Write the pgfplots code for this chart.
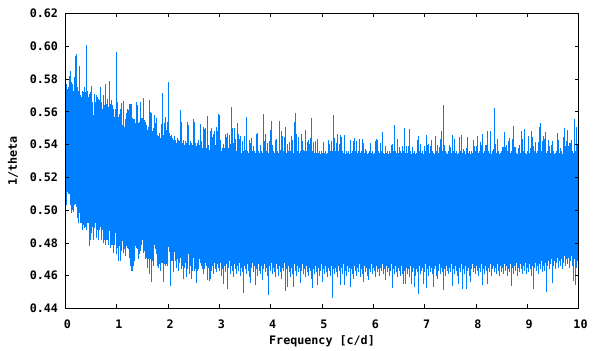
\documentclass[border=0pt]{standalone}
\usepackage{fontspec}
\setmonofont{DejaVu Sans Mono Bold}
\setmainfont{DejaVu Sans Mono Bold}
\usepackage{pgfplots}
\usepackage{pgfplotstable}
\pgfplotsset{compat=1.18}
\definecolor{bandblue}{RGB}{0,128,255}

% one row per pixel column of the reference: top and bottom of the column
\pgfplotstableread[row sep=crcr]{
hi lo\\
0.577 0.503\\ 0.574 0.511\\ 0.575 0.510\\ 0.582 0.510\\ 0.585 0.503\\ 0.578 0.498\\ 0.577 0.500\\ 0.573 0.499\\ 0.581 0.503\\ 0.594 0.504\\
0.5955 0.502\\ 0.575 0.495\\ 0.573 0.492\\ 0.588 0.498\\ 0.570 0.492\\ 0.569 0.492\\ 0.573 0.488\\ 0.572 0.491\\ 0.575 0.489\\ 0.572 0.490\\
0.601 0.488\\ 0.573 0.492\\ 0.569 0.492\\ 0.571 0.478\\ 0.572 0.482\\ 0.576 0.486\\ 0.566 0.490\\ 0.558 0.482\\ 0.571 0.489\\ 0.566 0.492\\
0.570 0.483\\ 0.569 0.488\\ 0.568 0.482\\ 0.567 0.488\\ 0.575 0.490\\ 0.566 0.482\\ 0.562 0.488\\ 0.570 0.480\\ 0.564 0.482\\ 0.577 0.479\\
0.565 0.482\\ 0.568 0.482\\ 0.563 0.479\\ 0.579 0.487\\ 0.565 0.477\\ 0.567 0.479\\ 0.564 0.479\\ 0.562 0.474\\ 0.557 0.479\\ 0.562 0.486\\
0.5967 0.473\\ 0.566 0.477\\ 0.557 0.469\\ 0.5585 0.478\\ 0.562 0.469\\ 0.5655 0.475\\ 0.552 0.481\\ 0.5665 0.474\\ 0.551 0.476\\ 0.5555 0.472\\
0.559 0.478\\ 0.562 0.477\\ 0.561 0.476\\ 0.565 0.471\\ 0.5645 0.466\\ 0.565 0.463\\ 0.556 0.463\\ 0.5555 0.466\\ 0.5555 0.469\\ 0.553 0.478\\
0.566 0.477\\ 0.564 0.476\\ 0.553 0.470\\ 0.554 0.473\\ 0.566 0.475\\ 0.556 0.479\\ 0.556 0.482\\ 0.5684 0.474\\ 0.555 0.475\\ 0.554 0.470\\
0.552 0.471\\ 0.549 0.465\\ 0.551 0.470\\ 0.567 0.461\\ 0.5596 0.470\\ 0.559 0.456\\ 0.548 0.469\\ 0.550 0.466\\ 0.558 0.479\\ 0.553 0.476\\
0.556 0.473\\ 0.546 0.466\\ 0.545 0.465\\ 0.547 0.467\\ 0.544 0.463\\ 0.5527 0.468\\ 0.5717 0.468\\ 0.546 0.456\\ 0.553 0.467\\ 0.5568 0.466\\
0.549 0.467\\ 0.554 0.466\\ 0.5784 0.4776\\ 0.547 0.4745\\ 0.545 0.4537\\ 0.546 0.469\\ 0.544 0.469\\ 0.543 0.462\\ 0.545 0.4745\\ 0.543 0.469\\
0.541 0.465\\ 0.544 0.470\\ 0.543 0.463\\ 0.542 0.468\\ 0.5612 0.471\\ 0.554 0.464\\ 0.541 0.466\\ 0.543 0.4577\\ 0.540 0.465\\ 0.542 0.468\\
0.541 0.459\\ 0.554 0.464\\ 0.552 0.473\\ 0.540 0.461\\ 0.542 0.466\\ 0.541 0.458\\ 0.540 0.463\\ 0.5557 0.471\\ 0.554 0.463\\ 0.541 0.464\\
0.539 0.4555\\ 0.541 0.463\\ 0.543 0.464\\ 0.540 0.470\\ 0.5527 0.468\\ 0.542 0.466\\ 0.538 0.464\\ 0.5506 0.461\\ 0.5496 0.464\\ 0.550 0.468\\
0.538 0.466\\ 0.5576 0.4575\\ 0.5398 0.465\\ 0.537 0.4567\\ 0.5486 0.4582\\ 0.5502 0.463\\ 0.5449 0.466\\ 0.5463 0.461\\ 0.5484 0.468\\ 0.540 0.464\\
0.5508 0.462\\ 0.548 0.467\\ 0.5588 0.465\\ 0.5582 0.463\\ 0.5429 0.468\\ 0.536 0.460\\ 0.538 0.464\\ 0.5404 0.4551\\ 0.5378 0.466\\ 0.5465 0.462\\
0.5449 0.467\\ 0.5472 0.4518\\ 0.538 0.465\\ 0.5459 0.469\\ 0.5404 0.461\\ 0.563 0.466\\ 0.5502 0.463\\ 0.541 0.4592\\ 0.5502 0.467\\ 0.5435 0.464\\
0.536 0.461\\ 0.5533 0.466\\ 0.5465 0.463\\ 0.5435 0.468\\ 0.5453 0.460\\ 0.535 0.465\\ 0.5423 0.462\\ 0.536 0.4492\\ 0.5453 0.466\\ 0.537 0.464\\
0.5569 0.461\\ 0.536 0.467\\ 0.535 0.463\\ 0.5429 0.459\\ 0.541 0.4557\\ 0.544 0.465\\ 0.536 0.468\\ 0.539 0.462\\ 0.536 0.466\\ 0.535 0.4541\\
0.5465 0.464\\ 0.5472 0.460\\ 0.536 0.467\\ 0.535 0.463\\ 0.5398 0.461\\ 0.536 0.466\\ 0.535 0.4575\\ 0.5588 0.464\\ 0.5423 0.467\\ 0.5465 0.462\\
0.536 0.465\\ 0.541 0.460\\ 0.535 0.448\\ 0.5423 0.466\\ 0.549 0.463\\ 0.5545 0.468\\ 0.5398 0.461\\ 0.536 0.465\\ 0.535 0.462\\ 0.5429 0.4592\\
0.5435 0.467\\ 0.536 0.464\\ 0.535 0.460\\ 0.5545 0.466\\ 0.537 0.462\\ 0.5484 0.458\\ 0.5453 0.465\\ 0.536 0.463\\ 0.5447 0.468\\ 0.5508 0.4506\\
0.535 0.464\\ 0.5404 0.453\\ 0.536 0.466\\ 0.5416 0.462\\ 0.536 0.459\\ 0.5453 0.465\\ 0.5429 0.461\\ 0.535 0.4531\\ 0.5539 0.467\\ 0.5594 0.463\\
0.5465 0.460\\ 0.536 0.466\\ 0.5447 0.462\\ 0.535 0.465\\ 0.536 0.4557\\ 0.5465 0.463\\ 0.5423 0.467\\ 0.537 0.461\\ 0.536 0.464\\ 0.549 0.459\\
0.536 0.466\\ 0.5416 0.462\\ 0.5429 0.460\\ 0.5404 0.465\\ 0.544 0.463\\ 0.5563 0.458\\ 0.536 0.4527\\ 0.5416 0.464\\ 0.535 0.461\\ 0.5423 0.466\\
0.535 0.462\\ 0.5435 0.4541\\ 0.535 0.465\\ 0.536 0.460\\ 0.534 0.463\\ 0.536 0.467\\ 0.535 0.4563\\ 0.5416 0.464\\ 0.535 0.461\\ 0.536 0.466\\
0.534 0.462\\ 0.535 0.459\\ 0.5429 0.465\\ 0.5404 0.463\\ 0.536 0.460\\ 0.5423 0.466\\ 0.536 0.4461\\ 0.5582 0.464\\ 0.544 0.461\\ 0.536 0.465\\
0.541 0.462\\ 0.5465 0.459\\ 0.536 0.466\\ 0.5404 0.463\\ 0.5459 0.4541\\ 0.5447 0.465\\ 0.536 0.461\\ 0.535 0.467\\ 0.5459 0.4541\\ 0.534 0.463\\
0.536 0.460\\ 0.535 0.466\\ 0.536 0.462\\ 0.534 0.465\\ 0.5429 0.4531\\ 0.535 0.464\\ 0.536 0.461\\ 0.5423 0.4582\\ 0.544 0.466\\ 0.536 0.463\\
0.5423 0.460\\ 0.535 0.465\\ 0.536 0.462\\ 0.5435 0.467\\ 0.535 0.459\\ 0.536 0.464\\ 0.5435 0.461\\ 0.541 0.4561\\ 0.535 0.466\\ 0.5374 0.462\\
0.536 0.465\\ 0.534 0.460\\ 0.535 0.4571\\ 0.536 0.464\\ 0.541 0.462\\ 0.535 0.467\\ 0.536 0.461\\ 0.534 0.465\\ 0.535 0.463\\ 0.5423 0.459\\
0.5435 0.466\\ 0.5429 0.462\\ 0.536 0.464\\ 0.535 0.460\\ 0.541 0.465\\ 0.536 0.463\\ 0.5478 0.467\\ 0.535 0.461\\ 0.534 0.464\\ 0.539 0.4571\\
0.535 0.466\\ 0.536 0.462\\ 0.534 0.465\\ 0.536 0.460\\ 0.535 0.463\\ 0.5398 0.467\\ 0.5404 0.4524\\ 0.536 0.464\\ 0.552 0.461\\ 0.536 0.466\\
0.535 0.462\\ 0.5435 0.459\\ 0.535 0.465\\ 0.5386 0.463\\ 0.536 0.460\\ 0.535 0.466\\ 0.5392 0.461\\ 0.536 0.4551\\ 0.5502 0.463\\ 0.535 0.4551\\
0.5392 0.465\\ 0.535 0.461\\ 0.5392 0.464\\ 0.5496 0.459\\ 0.536 0.466\\ 0.534 0.4551\\ 0.5386 0.462\\ 0.535 0.465\\ 0.536 0.4531\\ 0.534 0.460\\
0.535 0.464\\ 0.5429 0.462\\ 0.5453 0.4488\\ 0.536 0.466\\ 0.5404 0.461\\ 0.535 0.463\\ 0.536 0.465\\ 0.534 0.4551\\ 0.5392 0.462\\ 0.536 0.467\\
0.5459 0.4527\\ 0.5398 0.464\\ 0.5404 0.460\\ 0.535 0.466\\ 0.5392 0.462\\ 0.5429 0.465\\ 0.536 0.461\\ 0.535 0.4531\\ 0.534 0.464\\ 0.5453 0.466\\
0.536 0.460\\ 0.5398 0.4582\\ 0.535 0.463\\ 0.5386 0.467\\ 0.5435 0.461\\ 0.5484 0.465\\ 0.536 0.462\\ 0.5643 0.4512\\ 0.5398 0.464\\ 0.536 0.460\\
0.535 0.466\\ 0.534 0.463\\ 0.536 0.461\\ 0.5398 0.465\\ 0.5386 0.462\\ 0.535 0.467\\ 0.5459 0.4537\\ 0.536 0.464\\ 0.5435 0.461\\ 0.535 0.466\\
0.536 0.463\\ 0.534 0.460\\ 0.535 0.4551\\ 0.5447 0.465\\ 0.536 0.462\\ 0.5459 0.467\\ 0.535 0.4518\\ 0.5374 0.464\\ 0.536 0.461\\ 0.534 0.466\\
0.538 0.4518\\ 0.5447 0.463\\ 0.535 0.465\\ 0.536 0.460\\ 0.534 0.4561\\ 0.536 0.464\\ 0.535 0.467\\ 0.5429 0.462\\ 0.5392 0.465\\ 0.536 0.461\\
0.5392 0.466\\ 0.5453 0.463\\ 0.535 0.460\\ 0.536 0.465\\ 0.5416 0.462\\ 0.5398 0.467\\ 0.5465 0.4541\\ 0.535 0.464\\ 0.536 0.461\\ 0.5398 0.466\\
0.5398 0.463\\ 0.5484 0.4551\\ 0.536 0.465\\ 0.535 0.462\\ 0.5484 0.467\\ 0.534 0.460\\ 0.536 0.464\\ 0.5374 0.466\\ 0.5624 0.462\\ 0.5404 0.465\\
0.535 0.461\\ 0.5435 0.467\\ 0.536 0.463\\ 0.534 0.460\\ 0.535 0.466\\ 0.536 0.462\\ 0.5386 0.465\\ 0.5386 0.461\\ 0.5478 0.467\\ 0.5386 0.463\\
0.5398 0.466\\ 0.536 0.460\\ 0.5423 0.464\\ 0.5441 0.462\\ 0.535 0.467\\ 0.536 0.4537\\ 0.5435 0.465\\ 0.5514 0.461\\ 0.5386 0.466\\ 0.5386 0.463\\
0.535 0.468\\ 0.534 0.460\\ 0.538 0.465\\ 0.5398 0.462\\ 0.535 0.467\\ 0.5484 0.464\\ 0.5435 0.461\\ 0.536 0.466\\ 0.5496 0.463\\ 0.535 0.468\\
0.534 0.461\\ 0.536 0.465\\ 0.5453 0.462\\ 0.535 0.467\\ 0.538 0.464\\ 0.5484 0.460\\ 0.5447 0.466\\ 0.5392 0.4522\\ 0.536 0.465\\ 0.5416 0.468\\
0.535 0.463\\ 0.536 0.466\\ 0.5416 0.461\\ 0.5508 0.467\\ 0.5533 0.464\\ 0.536 0.469\\ 0.5423 0.462\\ 0.5453 0.466\\ 0.5435 0.463\\ 0.5478 0.468\\
0.535 0.450\\ 0.536 0.466\\ 0.5429 0.469\\ 0.5392 0.464\\ 0.535 0.467\\ 0.5398 0.470\\ 0.5423 0.4555\\ 0.536 0.466\\ 0.534 0.469\\ 0.535 0.464\\
0.536 0.468\\ 0.5472 0.471\\ 0.5429 0.465\\ 0.535 0.469\\ 0.538 0.466\\ 0.536 0.470\\ 0.534 0.464\\ 0.5447 0.468\\ 0.5502 0.472\\ 0.5392 0.466\\
0.5423 0.470\\ 0.549 0.467\\ 0.5392 0.471\\ 0.541 0.465\\ 0.541 0.469\\ 0.5429 0.472\\ 0.536 0.466\\ 0.535 0.4567\\ 0.5557 0.470\\ 0.536 0.4541\\
0.5508 0.465\\ 0.5398 0.469\\
}\bandtable

\begin{document}
\begin{tikzpicture}
\begin{axis}[
  at={(0,0)}, anchor=origin,
  scale only axis, width=513bp, height=295bp,
  xmin=0, xmax=10, ymin=0.44, ymax=0.62,
  xtick={0,1,2,3,4,5,6,7,8,9,10},
  ytick={0.44,0.46,0.48,0.50,0.52,0.54,0.56,0.58,0.60,0.62},
  tick align=inside, major tick length=4bp,
  tick style={black, line width=0.8bp},
  axis line style={line width=1bp},
  axis on top,
  /pgf/number format/assume math mode=true,
  yticklabel style={/pgf/number format/fixed, /pgf/number format/fixed zerofill, /pgf/number format/precision=2, font=\fontsize{11.7bp}{13bp}\selectfont, xshift=-4bp},
  xticklabel style={font=\fontsize{11.7bp}{13bp}\selectfont, yshift=-8bp, xshift=2bp},
  label style={font=\fontsize{11.7bp}{13bp}\selectfont},
  ylabel style={yshift=5bp},
  xlabel={Frequency [c/d]}, ylabel={1/theta},
]
\addplot[draw=none, mark=none, forget plot,
  error bars/.cd, y dir=plus, y explicit, error mark=none,
  error bar style={line width=1bp, color=bandblue}]
  table[x expr=(\coordindex+1)/51.3, y=lo, y error plus expr=\thisrow{hi}-\thisrow{lo}] {\bandtable};
\end{axis}
\path[use as bounding box] (-65.5bp,-41.5bp) rectangle (534.5bp,308.5bp);
\end{tikzpicture}
\end{document}
